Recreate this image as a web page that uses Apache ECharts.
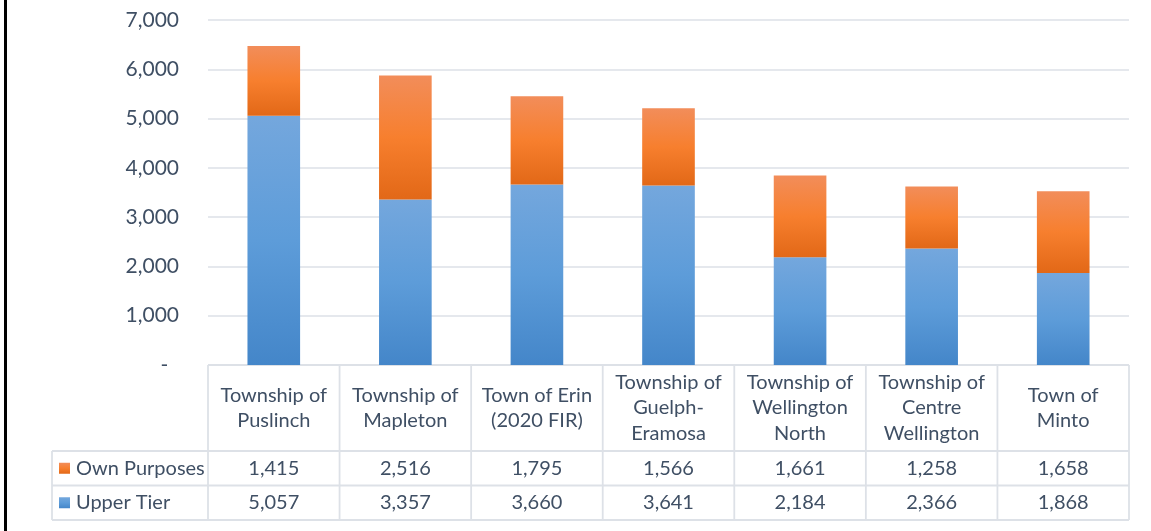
<!DOCTYPE html>
<html>
<head>
<meta charset="utf-8">
<script src="https://cdn.jsdelivr.net/npm/echarts@6/dist/echarts.min.js"></script>
<style>
    html, body { margin: 0; padding: 0; background: #ffffff; }
    #chart { width: 1151px; height: 531px; }
</style>
</head>
<body>
<div id="chart"></div>
<script>
// data
const categories = [
    'Township of\nPuslinch',
    'Township of\nMapleton',
    'Town of Erin\n(2020 FIR)',
    'Township of\nGuelph-\nEramosa',
    'Township of\nWellington\nNorth',
    'Township of\nCentre\nWellington',
    'Town of\nMinto'
];
const ownPurposes = [1415, 2516, 1795, 1566, 1661, 1258, 1658];
const upperTier = [5057, 3357, 3660, 3641, 2184, 2366, 1868];
const yTicks = [0, 1000, 2000, 3000, 4000, 5000, 6000, 7000];

const textColor = '#3f4f64';
const lineColor = '#dde1e7';
const font = 'Lato, "Open Sans", sans-serif';

function grad(c0, c1, c2) {
    return new echarts.graphic.LinearGradient(0, 0, 0, 1, [
        { offset: 0, color: c0 },
        { offset: 0.5, color: c1 },
        { offset: 1, color: c2 }
    ]);
}
const orangeFill = () => grad('#f28d5a', '#f77f2e', '#e26817');
const blueFill = () => grad('#74a7dd', '#5d9cd9', '#4486c9');

// zero shows as a dash, like accounting format
const fmt = v => v === 0 ? '-  ' : v.toLocaleString('en-US');

const myChart = echarts.init(document.getElementById('chart'));
const option = {
    animation: false,
    grid: { left: 208, right: 22, top: 20, bottom: 166 },
    xAxis: {
        type: 'category',
        data: categories,
        axisLine: { show: false },
        axisTick: { show: false },
        axisLabel: {
            interval: 0,
            margin: 43,
            verticalAlign: 'middle',
            align: 'center',
            lineHeight: 25.5,
            fontSize: 20,
            fontFamily: font,
            color: textColor
        }
    },
    yAxis: {
        type: 'value',
        min: yTicks[0],
        max: yTicks[yTicks.length - 1],
        interval: 1000,
        axisLine: { show: false },
        axisTick: { show: false },
        axisLabel: {
            margin: 29,
            fontSize: 21,
            fontFamily: font,
            color: textColor,
            formatter: fmt
        },
        splitLine: { lineStyle: { color: lineColor, width: 1.6 } }
    },
    series: [
        {
            type: 'bar',
            name: 'Upper Tier',
            stack: 'total',
            barWidth: '40%',
            data: upperTier,
            itemStyle: { color: blueFill() }
        },
        {
            type: 'bar',
            name: 'Own Purposes',
            stack: 'total',
            barWidth: '40%',
            data: ownPurposes,
            itemStyle: { color: orangeFill() }
        }
    ]
};
myChart.setOption(option);

// data table under the plot
function buildTable() {
    const g = [];
    const x0 = myChart.convertToPixel({ xAxisIndex: 0 }, 0);
    const x1 = myChart.convertToPixel({ xAxisIndex: 0 }, 1);
    const colW = x1 - x0;
    const left = x0 - colW / 2;
    const right = left + colW * categories.length;
    const top = myChart.convertToPixel({ yAxisIndex: 0 }, 0);
    const tableLeft = 52;
    const row1 = 451, row2 = 485.5, bottom = 520;
    const ls = { stroke: lineColor, lineWidth: 1.8 };

    // black edge on the left
    g.push({ type: 'rect', shape: { x: 4, y: 0, width: 3, height: 531 }, style: { fill: '#000' } });

    g.push({ type: 'line', shape: { x1: left, y1: top, x2: right, y2: top }, style: ls });
    [row1, row2, bottom].forEach(y => {
        g.push({ type: 'line', shape: { x1: tableLeft, y1: y, x2: right, y2: y }, style: ls });
    });
    g.push({ type: 'line', shape: { x1: tableLeft, y1: row1, x2: tableLeft, y2: bottom }, style: ls });
    for (let i = 0; i <= categories.length; i++) {
        const x = left + colW * i;
        g.push({ type: 'line', shape: { x1: x, y1: top, x2: x, y2: bottom }, style: ls });
    }

    const rows = [
        { name: 'Own Purposes', values: ownPurposes, fill: orangeFill(), y: (row1 + row2) / 2 },
        { name: 'Upper Tier', values: upperTier, fill: blueFill(), y: (row2 + bottom) / 2 }
    ];
    rows.forEach(r => {
        g.push({ type: 'rect', shape: { x: 59, y: r.y - 5.5, width: 11, height: 11 }, style: { fill: r.fill } });
        g.push({
            type: 'text', x: 76, y: r.y,
            style: { text: r.name, fill: textColor, font: '20px ' + font, verticalAlign: 'middle', align: 'left' }
        });
        r.values.forEach((v, i) => {
            g.push({
                type: 'text', x: left + colW * (i + 0.5), y: r.y,
                style: { text: fmt(v), fill: textColor, font: '20px ' + font, verticalAlign: 'middle', align: 'center' }
            });
        });
    });
    myChart.setOption({ graphic: g });
}
buildTable();
</script>
</body>
</html>
